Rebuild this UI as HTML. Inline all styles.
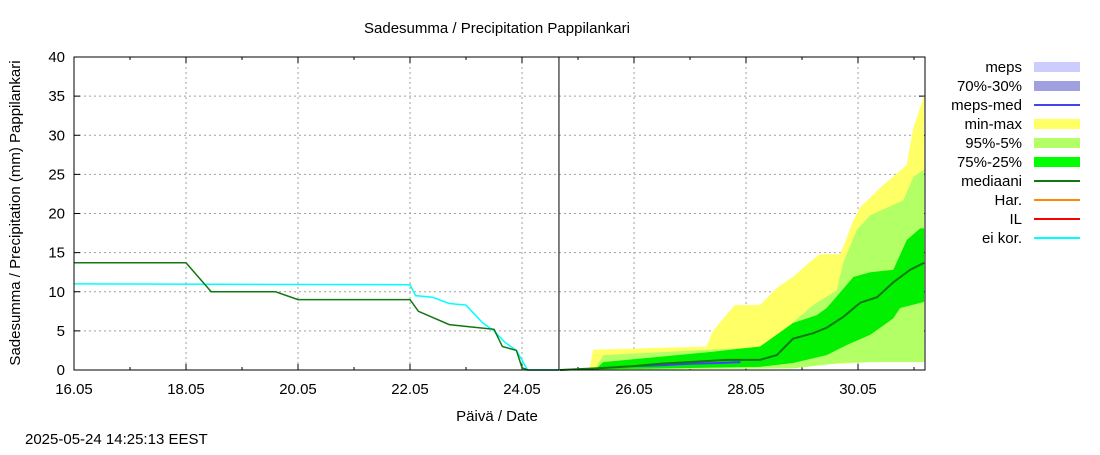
<!DOCTYPE html>
<html><head><meta charset="utf-8"><style>
body{margin:0;background:#fff;}
svg text{font-family:"Liberation Sans",sans-serif;font-size:15px;fill:#000;}
</style></head><body>
<svg id="c" width="1100" height="450" xmlns="http://www.w3.org/2000/svg">
<text x="497" y="33" text-anchor="middle">Sadesumma / Precipitation  Pappilankari</text>
<text transform="translate(20,213) rotate(-90)" text-anchor="middle">Sadesumma / Precipitation (mm)  Pappilankari</text>
<text x="497" y="421" text-anchor="middle">Päivä / Date</text>
<text x="25" y="444">2025-05-24 14:25:13 EEST</text>
<g id="plot"></g>
<g id="legend"></g>
</svg>
<script>
const xTickLabels=["16.05","18.05","20.05","22.05","24.05","26.05","28.05","30.05"];
const yTickLabels=[0,5,10,15,20,25,30,35,40];
// times in days since 16.05 00:00
const obsT=[0,2.0,2.45,3.6,4.0,6.0,6.15,6.7,7.1,7.5,7.65,7.9,8.0,8.1,8.66];
const obsMed=[13.7,13.7,10,10,9,9,7.5,5.8,5.5,5.2,3,2.5,0.3,0,0];
const cyanT=[0,6.0,6.1,6.4,6.7,7.0,7.3,7.5,7.7,7.9,8.1,8.66];
const cyanV=[11,10.9,9.5,9.3,8.5,8.3,6,5,3.5,2.5,0,0];
const nowT=8.66;
const maxT=[8.68,9.2,9.27,11.3,11.4,11.8,12.25,12.55,12.84,13.14,13.32,13.68,13.8,13.9,14.04,14.4,14.87,14.98,15.2];
const maxV=[0,0,2.6,3,4.9,8.3,8.3,10.5,11.9,13.8,14.8,14.8,16.9,18.9,20.8,23.3,26.2,30.7,35.1];
const minT=[8.68,11.7,13.7,14.2,15.05,15.2];
const minV=[0,0.3,0.8,1.0,1.9,3.8];
const p95T=[8.68,9.3,9.45,11.06,12.25,12.55,12.84,13.2,13.62,13.74,13.98,14.22,14.63,14.81,14.99,15.2];
const p95V=[0,0,1.9,2.5,2.9,4.2,6.1,8.3,10.2,13.8,17.9,19.8,21.1,21.7,24.7,25.6];
const p5T=[8.68,12.85,13.68,14.22,15.2];
const p5V=[0,0.2,0.9,1.0,1.0];
const p75T=[8.68,9.3,9.45,11.36,12.25,12.84,13.26,13.44,13.92,14.22,14.63,14.87,15.11,15.2];
const p75V=[0,0,1,2.3,3.0,6.0,7.0,7.9,11.9,12.5,12.8,16.6,18.1,18.1];
const p25T=[8.68,12.25,12.84,13.44,13.8,14.22,14.63,14.75,15.2];
const p25V=[0,0.4,0.9,1.9,3.2,4.5,6.6,7.9,8.7];
const medT=[8.68,9.45,9.99,10.47,11.66,12.25,12.55,12.84,13.2,13.44,13.74,14.04,14.34,14.63,14.93,15.2];
const medV=[0,0.25,0.5,0.8,1.3,1.3,1.9,4.0,4.7,5.4,6.8,8.6,9.3,11.2,12.8,13.7];
const mepsT=[9.99,10.5,11.0,11.5,11.9];
const mepsV=[0.5,0.6,0.8,0.9,1.0];

const L=74,R=925,T=57,B=370,dayPx=56;
const X=t=>L+t*dayPx, Y=v=>B-v*(B-T)/40;
const NS="http://www.w3.org/2000/svg";
const plot=document.getElementById('plot'), leg=document.getElementById('legend');
function mk(tag,attrs,parent){const e=document.createElementNS(NS,tag);for(const k in attrs)e.setAttribute(k,attrs[k]);(parent||plot).appendChild(e);return e;}
function band(tu,vu,tl,vl,color,name){
  let pts=tu.map((t,i)=>X(Math.min(t,15.18))+','+Y(vu[i]));
  for(let i=tl.length-1;i>=0;i--)pts.push(X(Math.min(tl[i],15.18))+','+Y(vl[i]));
  const p=mk('polygon',{points:pts.join(' '),fill:color});
  
  
}
function line(ts,vs,color,w,name){
  const p=mk('polyline',{points:ts.map((t,i)=>X(Math.min(t,15.18))+','+Y(vs[i])).join(' '),fill:'none',stroke:color,'stroke-width':w});
  
  
}
// grid
yTickLabels.forEach((v,i)=>{
  if(v>0&&v<40){const g=mk('line',{x1:L,x2:R,y1:Y(v),y2:Y(v),stroke:'#a0a0a0','stroke-dasharray':'2,3'});
  }
  const t=mk('text',{x:65,y:Y(v)+5,'text-anchor':'end'});t.textContent=v;
  
  mk('line',{x1:L,x2:L+6,y1:Y(v),y2:Y(v),stroke:'#000'});mk('line',{x1:R,x2:R-6,y1:Y(v),y2:Y(v),stroke:'#000'});
});
xTickLabels.forEach((s,i)=>{
  const x=X(i*2);
  if(i>0){const g=mk('line',{x1:x,x2:x,y1:T,y2:B,stroke:'#a0a0a0','stroke-dasharray':'2,3'});
  }
  const t=mk('text',{x:x,y:394,'text-anchor':'middle'});t.textContent=s;
  
});
for(let d=0;d<=15;d++){const x=X(d);mk('line',{x1:x,x2:x,y1:B,y2:B-(d%2?3:6),stroke:'#000'});mk('line',{x1:x,x2:x,y1:T,y2:T+(d%2?3:6),stroke:'#000'});}
band(maxT,maxV,minT,minV,'#ffff66','min-max-band');
band(p95T,p95V,p5T,p5V,'#b3ff66','p95-p5-band');
band(p75T,p75V,p25T,p25V,'#00f000','p75-p25-band');
line(mepsT,mepsV,'#4444ee',2,'meps-median-line');
line(medT,medV,'#117711',2,'forecast-median-line');
line(cyanT,cyanV,'#00ffff',1.5,'uncorrected-line');
line(obsT,obsMed,'#117711',1.5,'observed-line');
const nl=mk('line',{x1:X(nowT),x2:X(nowT),y1:T,y2:B,stroke:'#000'});

const fr=mk('rect',{x:L,y:T,width:R-L,height:B-T,fill:'none',stroke:'#000'});

// legend
const legNames=["meps","70%-30%","meps-med","min-max","95%-5%","75%-25%","mediaani","Har.","IL","ei kor."];
const legColors=["#ccccff","#a0a0e0","#4444ee","#ffff66","#b3ff66","#00ff00","#117711","#ff8800","#ff0000","#00ffff"];
const legBox=[1,1,0,1,1,1,0,0,0,0];
legNames.forEach((n,i)=>{
  const y=67+i*19;
  const t=mk('text',{x:1022,y:y+5,'text-anchor':'end'},leg);t.textContent=n;
  
  const s=legBox[i]?mk('rect',{x:1034,y:y-5,width:46,height:10,fill:legColors[i]},leg):mk('line',{x1:1034,x2:1080,y1:y,y2:y,stroke:legColors[i],'stroke-width':2},leg);
  
});
</script>
</body></html>
